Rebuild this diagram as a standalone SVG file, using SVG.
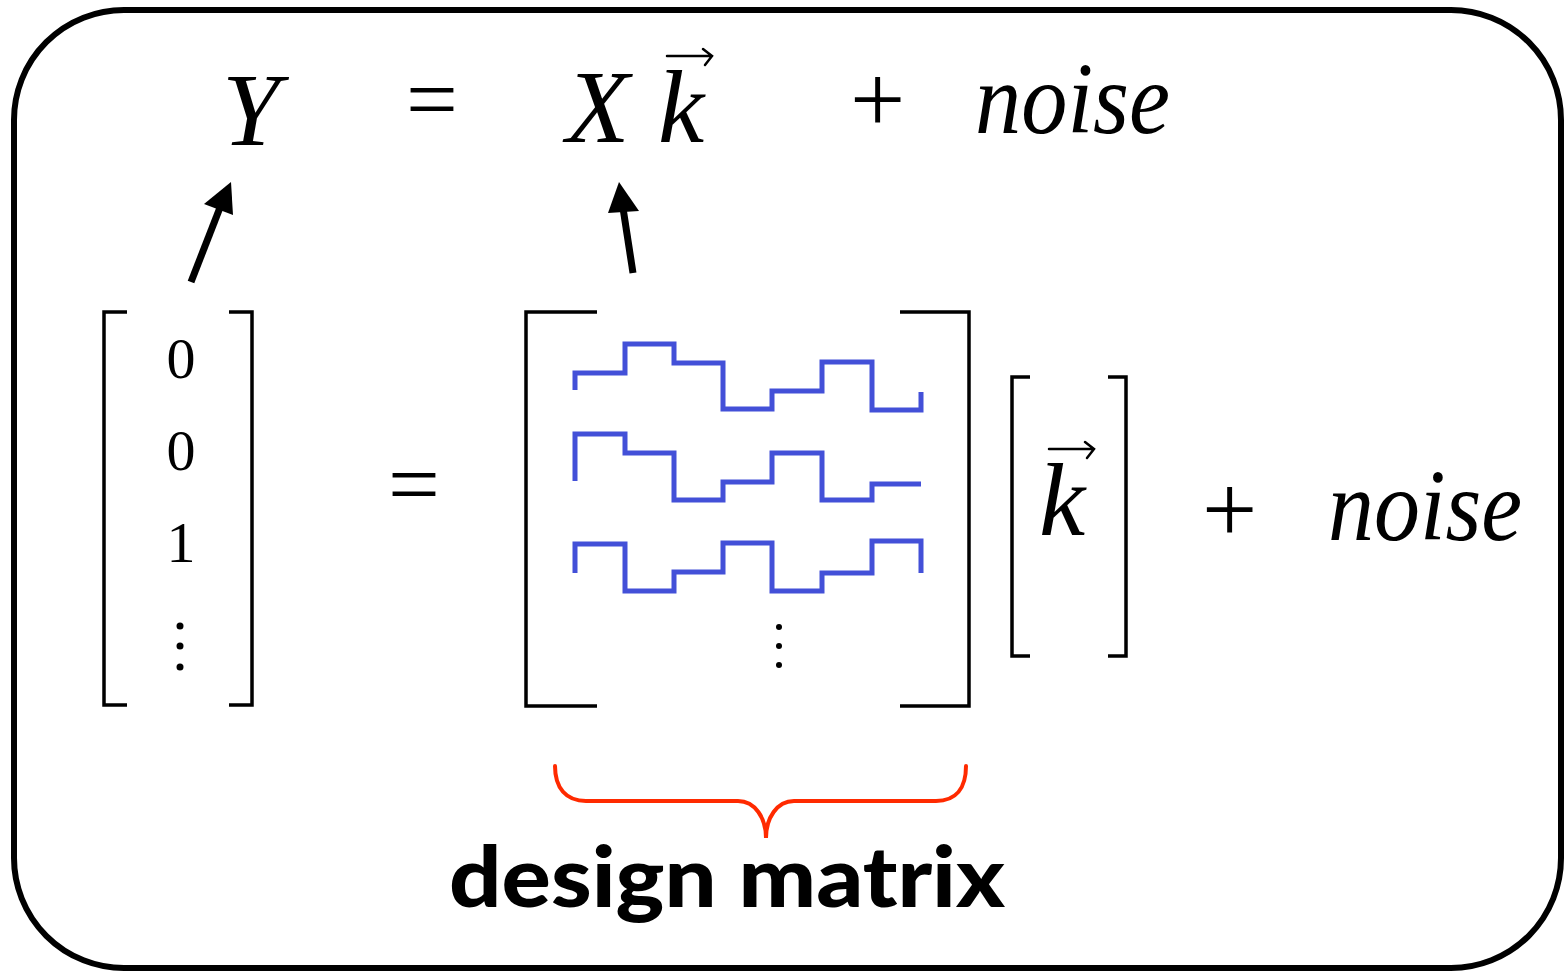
<svg xmlns="http://www.w3.org/2000/svg" width="1564" height="974" viewBox="0 0 1564 974">
<defs>
<style>
.frame{fill:#fff;stroke:#000;stroke-width:6}
.br{fill:none;stroke:#000;stroke-width:3.5}
.wave{fill:none;stroke:#4350d8;stroke-width:5;stroke-linejoin:miter}
.brace{fill:none;stroke:#ff2a00;stroke-width:4;stroke-linecap:round}
.m{font-family:"Liberation Serif","DejaVu Serif",serif;fill:#000}
.it{font-style:italic}
.num{font-family:"Liberation Serif",serif;font-size:58px;text-anchor:middle}
.arr{fill:none;stroke:#000;stroke-width:7}
.vec{fill:none;stroke:#000;stroke-width:2.5;stroke-linecap:round}
.lbl{font-family:Lato,"Open Sans",sans-serif;font-weight:900;font-size:84px;fill:#000}
</style>
</defs>
<rect class="frame" x="14" y="10" width="1547" height="958" rx="110" ry="110"/>

<g id="top-equation">
<text class="m it" x="222" y="145" font-size="104">Y</text>
<text class="m" x="406" y="130" font-size="92">=</text>
<text class="m it" x="566" y="142" font-size="104">X</text>
<text class="m it" x="658" y="142" font-size="104">k</text>
<path class="vec" d="M667 56 H711 M703 49 L712 56 L705 65"/>
<text class="m" x="850" y="132" font-size="98">+</text>
<text class="m it" x="975" y="133" font-size="102" textLength="195" lengthAdjust="spacingAndGlyphs">noise</text>
</g>

<g id="connectors">
<line class="arr" x1="191" y1="282" x2="221" y2="205"/>
<polygon points="231,182 204,204 233,215"/>
<line class="arr" x1="633" y1="273" x2="623" y2="208"/>
<polygon points="619,182 608,213 639,211"/>
</g>

<g id="y-vector">
<path class="br" d="M127 312 H104 V705 H127 M229 312 H252 V705 H229"/>
<text class="m num" x="181" y="378">0</text>
<text class="m num" x="181" y="470">0</text>
<text class="m num" x="181" y="562">1</text>
<circle cx="180" cy="626" r="3.5"/>
<circle cx="180" cy="646" r="3.5"/>
<circle cx="180" cy="667" r="3.5"/>
</g>

<g id="equals2">
<text class="m" x="388" y="515" font-size="92">=</text>
</g>

<g id="design-matrix">
<path class="br" d="M597 312 H526 V706 H597 M900 312 H969 V706 H900"/>
<path class="wave" d="M575 390 V373 H625 V344 H674 V363 H723 V409 H772 V391 H822 V362 H872 V410 H921 V392"/>
<path class="wave" d="M575 481 V434 H625 V453 H674 V500 H723 V482 H772 V453 H822 V500 H872 V484 H921"/>
<path class="wave" d="M575 573 V544 H625 V591 H674 V572 H723 V543 H772 V591 H822 V573 H872 V541 H921 V573"/>
<circle cx="779" cy="627" r="3"/>
<circle cx="779" cy="646" r="3"/>
<circle cx="779" cy="665" r="3"/>
</g>

<g id="k-vector">
<path class="br" d="M1030 377 H1012 V656 H1030 M1108 377 H1126 V656 H1108"/>
<text class="m it" x="1039" y="535" font-size="104">k</text>
<path class="vec" d="M1049 449 H1093 M1085 442 L1094 449 L1087 458"/>
</g>

<g id="noise2">
<text class="m" x="1202" y="542" font-size="98">+</text>
<text class="m it" x="1328" y="540" font-size="102" textLength="194" lengthAdjust="spacingAndGlyphs">noise</text>
</g>

<g id="brace">
<path class="brace" d="M555 766 C555 788 566 801 586 801 H738 C755 801 766 818 766 838 C766 818 777 801 794 801 H936 C956 801 966 788 966 766"/>
</g>

<g id="label">
<text class="lbl" x="449" y="907" textLength="556" lengthAdjust="spacingAndGlyphs">design matrix</text>
</g>
</svg>
